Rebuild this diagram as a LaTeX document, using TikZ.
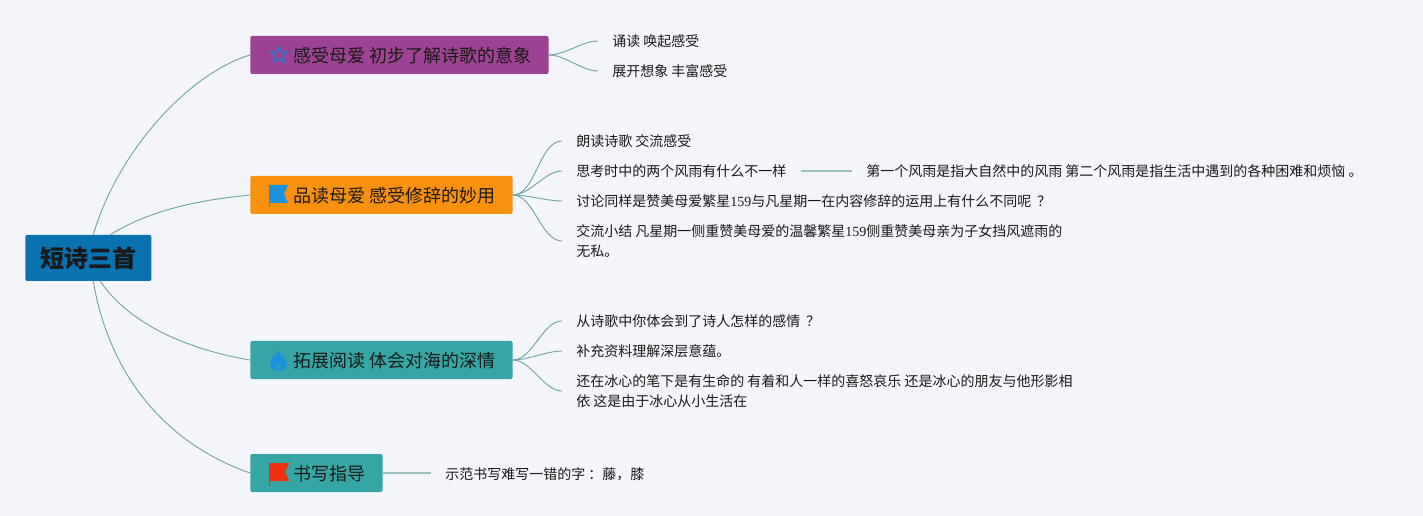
\documentclass[tikz,border=0pt]{standalone}
\usepackage{fontspec}
\setmainfont{Noto Sans CJK SC}
\newfontfamily\numfont{Liberation Serif}
\usetikzlibrary{shapes.geometric}
\definecolor{bgcolor}{HTML}{F4F4FB}
\definecolor{linkcolor}{HTML}{6FA5A2}
\definecolor{rootcolor}{HTML}{0873AE}
\definecolor{purplecolor}{HTML}{9C4394}
\definecolor{orangecolor}{HTML}{F8920E}
\definecolor{tealcolor}{HTML}{36A5A6}
\definecolor{iconblue}{HTML}{1A93DC}
\definecolor{starblue}{HTML}{3A75C4}
\definecolor{flagred}{HTML}{F0300F}
\tikzset{
	rootbox/.style={anchor=west, fill=rootcolor, text=black!90, rounded corners=1.5pt, inner xsep=11.25pt, inner ysep=0pt, minimum height=34.5pt, text height=16pt, text depth=1.3pt, font=\fontsize{18}{22}\selectfont\bfseries},
	branchbox/.style={anchor=west, text=black!90, rounded corners=1.5pt, inner xsep=13pt, inner ysep=0pt, minimum height=28.5pt, text height=13.5pt, text depth=1.8pt, font=\fontsize{13.5}{18}\selectfont},
	leaftext/.style={anchor=west, text=black!90, inner xsep=10.5pt, inner ysep=0pt, align=left, font=\fontsize{10.5}{15}\selectfont},
	link/.style={draw=linkcolor, line width=0.7pt},
	straightlink/.style={draw=linkcolor!70!white, line width=1.1pt}
}
\newcommand{\iconspace}{\hspace*{19.25pt}}

\begin{document}
\begin{tikzpicture}[x=0.75pt, y=-0.75pt]
	% Page %
	\fill [bgcolor] (0,0) rectangle (1423,516);
	\useasboundingbox (0,0) rectangle (1423,516);
	% Root and Branches %
	\node (root) [rootbox] at (25,258) {短诗三首};
	\node (ganshou) [branchbox, fill=purplecolor] at (250,55) {\iconspace 感受母爱 初步了解诗歌的意象};
	\node (pindu) [branchbox, fill=orangecolor] at (250,195) {\iconspace 品读母爱 感受修辞的妙用};
	\node (tuozhan) [branchbox, fill=tealcolor] at (250,360) {\iconspace 拓展阅读 体会对海的深情};
	\node (shuxie) [branchbox, fill=tealcolor] at (250,473) {\iconspace 书写指导};
	% Leaves %
	\node (songdu) [leaftext] at (598,41) {诵读 唤起感受};
	\node (zhankai) [leaftext] at (598,71) {展开想象 丰富感受};
	\node (langdu) [leaftext] at (562,141) {朗读诗歌 交流感受};
	\node (sikao) [leaftext] at (562,171) {思考时中的两个风雨有什么不一样};
	\node (fengyu) [leaftext] at (852,171) {第一个风雨是指大自然中的风雨 第二个风雨是指生活中遇到的各种困难和烦恼 。};
	\node (taolun) [leaftext] at (562,201) {讨论同样是赞美母爱繁星{\numfont 159}与凡星期一在内容修辞的运用上有什么不同呢 \hspace{2pt}？};
	\node (xiaojie) [leaftext] at (562,241) {交流小结 凡星期一侧重赞美母爱的温馨繁星{\numfont 159}侧重赞美母亲为子女挡风遮雨的\\无私。};
	\node (qinggan) [leaftext] at (562,321) {从诗歌中你体会到了诗人怎样的感情 \hspace{2pt}？};
	\node (buchong) [leaftext] at (562,351) {补充资料理解深层意蕴。};
	\node (bingxin) [leaftext] at (562,391) {还在冰心的笔下是有生命的 有着和人一样的喜怒哀乐 还是冰心的朋友与他形影相\\依 这是由于冰心从小生活在};
	\node (shifan) [leaftext] at (431,474) {示范书写难写一错的字 ：藤，膝};
	% Root Links %
	\draw [link] ([xshift=3.75pt]root.north) .. controls +(25,-85) and +(-60,18) .. (ganshou.west);
	\draw [link] ([xshift=16.5pt]root.north) .. controls +(40,-25) and +(-50,5) .. (pindu.west);
	\draw [link] ([xshift=9pt]root.south) .. controls +(30,44) and +(-60,-10) .. (tuozhan.west);
	\draw [link] ([xshift=3.75pt]root.south) .. controls +(17,99) and +(-80,-28) .. (shuxie.west);
	% Branch Links %
	\foreach \leaf in {songdu, zhankai}
		{\draw [link] (ganshou.east) to [out=0, in=180, looseness=0.8] (\leaf.west);}
	\foreach \leaf in {langdu, sikao, taolun, xiaojie}
		{\draw [link] (pindu.east) to [out=0, in=180, looseness=0.8] (\leaf.west);}
	\foreach \leaf in {qinggan, buchong, bingxin}
		{\draw [link] (tuozhan.east) to [out=0, in=180, looseness=0.8] (\leaf.west);}
	\draw [straightlink] (shuxie.east) -- (shuxie.east -| shifan.west);
	\draw [straightlink] (sikao.east) -- (fengyu.west);
	% Icons %
	\node (staricon) [star, star points=5, star point ratio=2.1, draw=starblue, line width=1.4pt, inner sep=0pt, minimum size=12.5pt] at (279,55) {};
	\fill [iconblue] (269,185) -- (288,185) -- (284,194) -- (288,203) -- (270,203) -- (270,207) -- (269,207) -- cycle;
	\fill [iconblue] (279,350) .. controls (280,356) and (287,359) .. (287,364) .. controls (287,368) and (284,371) .. (279,371) .. controls (274,371) and (270,368) .. (270,363) .. controls (270,358) and (276,355) .. (279,350) -- cycle;
	\fill [tealcolor!60!iconblue] (279,371) .. controls (276,369) and (277,366) .. (279,363) .. controls (281,366) and (282,369) .. (279,371) -- cycle;
	\fill [flagred] (269,463) -- (289,463) -- (285,472) -- (289,481) -- (270,481) -- (270,486) -- (269,486) -- cycle;
\end{tikzpicture}
\end{document}
